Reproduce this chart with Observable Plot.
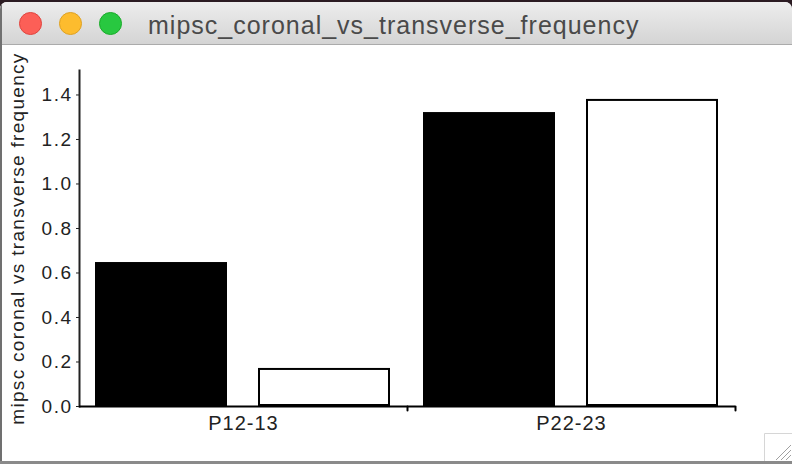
<!DOCTYPE html>
<html><head><meta charset="utf-8">
<script src="https://cdn.jsdelivr.net/npm/d3@7"></script>
<script src="https://cdn.jsdelivr.net/npm/@observablehq/plot@0.6"></script>
<style>
html,body{margin:0;padding:0;width:792px;height:464px;overflow:hidden;background:#2b1b22;}
#win{position:absolute;left:0;top:2px;width:792px;height:462px;background:#fff;border-radius:7px 7px 0 0;overflow:hidden;}
#bar{position:absolute;left:0;top:0;width:792px;height:42px;background:linear-gradient(#ededed,#d4d4d4);border-bottom:1px solid #ababab;}
.dot{position:absolute;top:10px;width:23px;height:23px;border-radius:50%;box-sizing:border-box;}
#red{left:18.5px;background:#fc5f57;border:1px solid #e0443e;}
#yellow{left:58.5px;background:#fdbc2e;border:1px solid #dea123;}
#green{left:98.5px;background:#28c840;border:1px solid #1aab29;}
#title{position:absolute;left:148px;top:11px;font-family:"Liberation Sans",Arial,sans-serif;font-size:25px;line-height:25px;letter-spacing:1px;color:#4a4a4a;white-space:nowrap;}
#edge{position:absolute;left:0;top:0;width:2px;height:100%;background:#707070;}
#bottom{position:absolute;left:0;bottom:0;width:792px;height:3px;background:#8a8a8a;}
#grip{position:absolute;right:0;bottom:3px;width:28px;height:28px;}
#chart{position:absolute;left:0;top:44px;}
#chart svg line{stroke-width:2;}
#chart svg [aria-label="y-axis tick label"] text{letter-spacing:1.5px;}
#chart svg [aria-label="fx-axis tick label"] text{letter-spacing:1px;font-size:20px;}
#chart svg [aria-label="y-axis label"] text{letter-spacing:1.3px;}
</style>
</head><body>
<div id="win">
  <div id="bar"><div class="dot" id="red"></div><div class="dot" id="yellow"></div><div class="dot" id="green"></div>
  <div id="title">mipsc_coronal_vs_transverse_frequency</div></div>
  <div id="edge"></div>
  <div id="chart"></div>
  <svg id="grip" width="28" height="28" viewBox="0 0 28 28">
    <path d="M0.5 28V0.5H28" fill="none" stroke="#d6d6d6"/>
    <path d="M12 27L27 12M17 27L27 17M22 27L27 22" stroke="#a0a0a0" stroke-width="1"/>
  </svg>
  <div id="bottom"></div>
</div>
<script>
const groups = ["P12-13", "P22-23"];
const series = ["coronal", "transverse"];
const coronal = [0.647, 1.321];
const transverse = [0.171, 1.380];
const yTicks = [0, 0.2, 0.4, 0.6, 0.8, 1.0, 1.2, 1.4];
const yLabel = "mipsc coronal vs transverse frequency";

const data = groups.flatMap((g, i) => [
  {group: g, series: series[0], value: coronal[i]},
  {group: g, series: series[1], value: transverse[i]}
]);

const chart = Plot.plot({
  width: 792,
  height: 414,
  marginLeft: 78,
  marginRight: 57,
  marginTop: 24,
  marginBottom: 54,
  style: {fontFamily: "'Liberation Sans', Arial, sans-serif", fontSize: "19px", color: "#222", background: "transparent", overflow: "visible"},
  fx: {domain: groups, padding: 0, label: null, tickSize: 0, tickPadding: 9},
  x: {domain: series, axis: null, paddingInner: 0.19, paddingOuter: 0.1},
  y: {domain: [0, 1.51], ticks: yTicks, tickFormat: d3.format(".1f"), tickSize: 3, tickPadding: 4,
      label: yLabel, labelAnchor: "center", labelArrow: "none", labelOffset: 69, line: true},
  marks: [
    Plot.barY(data, {filter: d => d.series === series[0], fx: "group", x: "series", y: "value", fill: "black"}),
    Plot.barY(data, {filter: d => d.series === series[1], fx: "group", x: "series", y: "value", fill: "white", stroke: "black", strokeWidth: 2, inset: 1}),
    Plot.ruleY([0], {stroke: "black", strokeWidth: 2}),
    Plot.vector(groups, {fx: d => d, frameAnchor: "bottom-right", length: 4, rotate: 180, anchor: "start", stroke: "black", strokeWidth: 2,
      shape: {draw(c, l) { c.moveTo(0, 0); c.lineTo(0, -l); }}})
  ]
});
document.getElementById("chart").appendChild(chart);
</script>
</body></html>
